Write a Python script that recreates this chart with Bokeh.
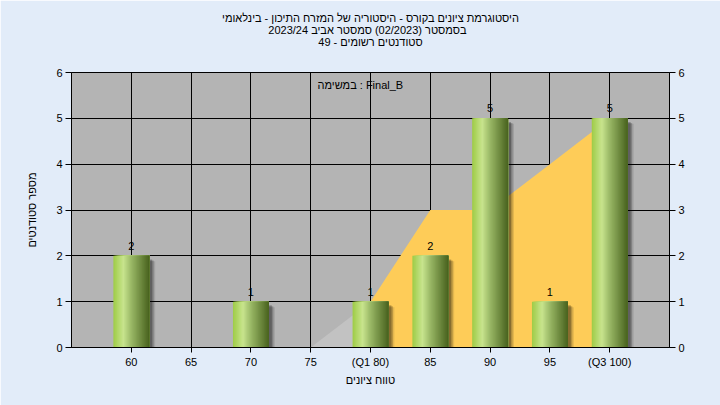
from bokeh.plotting import figure
from bokeh.models import Range1d, FixedTicker, LinearAxis, Label, Title
from bokeh.core.properties import value
from bokeh.embed import file_html
from bokeh.resources import INLINE

# ---- data ----
categories = ["60", "65", "70", "75", "(Q1 80)", "85", "90", "95", "(Q3 100)"]
counts = [2, 0, 1, 0, 1, 2, 5, 1, 5]
pre_q1_cats = ["75", "(Q1 80)"]
pre_q1_vals = [0, 1]
iqr_cats = ["(Q1 80)", "85", "90", "95", "(Q3 100)"]
iqr_vals = [1, 3, 3, 4, 5]

title_lines = [
    "היסטוגרמת ציונים בקורס - היסטוריה של המזרח התיכון - בינלאומי",
    "בסמסטר  (02/2023)  סמסטר אביב 2023/24",
    "סטודנטים רשומים - 49",
]
task_label = "במשימה : Final_B"
x_title = "טווח ציונים"
y_title = "מספר סטודנטים"

FONT = "Liberation Sans"
idx = {c: i for i, c in enumerate(categories)}

p = figure(width=720, height=405, output_backend="svg", toolbar_location=None,
           x_range=Range1d(-1, len(categories)), y_range=Range1d(0, 6),
           min_border_left=71, min_border_right=51, min_border_top=72, min_border_bottom=58)
p.background_fill_color = "#b4b4b4"
p.border_fill_color = "#e2ecf9"
p.outline_line_color = "black"

# titles: spacer nearest the frame, then the lines from bottom to top
p.add_layout(Title(text=" ", text_font=FONT, text_font_size="11px", standoff=12), "above")
for line in reversed(title_lines):
    p.add_layout(Title(text=line, align="center", text_font=FONT, text_font_size="11px",
                       text_font_style="normal", text_color="black", standoff=-2), "above")

# grid
p.xgrid.ticker = FixedTicker(ticks=list(range(len(categories))))
p.ygrid.ticker = FixedTicker(ticks=list(range(0, 7)))
for g in (p.xgrid, p.ygrid):
    g.grid_line_color = "black"
    g.grid_line_alpha = 1.0
    g.grid_line_width = 1

# areas
p.varea(x=[idx[c] for c in pre_q1_cats], y1=[0] * len(pre_q1_vals), y2=pre_q1_vals,
        fill_color="#c2c2c2")
p.varea(x=[idx[c] for c in iqr_cats], y1=[0] * len(iqr_vals), y2=iqr_vals,
        fill_color="#fecc58")

# bars
bar_w = 0.6
bx = [i for i, v in enumerate(counts) if v > 0]
bv = [v for v in counts if v > 0]
# soft shadows
p.vbar(x=[x + 0.1 for x in bx], top=[v - 0.12 for v in bv], bottom=-0.1, width=bar_w,
       fill_color="black", fill_alpha=0.1, line_color=None)
p.vbar(x=[x + 0.075 for x in bx], top=[v - 0.1 for v in bv], bottom=-0.1, width=bar_w,
       fill_color="black", fill_alpha=0.2, line_color=None)
p.vbar(x=[x + 0.05 for x in bx], top=[v - 0.08 for v in bv], bottom=-0.1, width=bar_w,
       fill_color="black", fill_alpha=0.25, line_color=None)

stops = [(0.0, (0x9e, 0xcc, 0x46)), (0.28, (0xc8, 0xe4, 0x8e)), (0.5, (0x9a, 0xb8, 0x66)),
         (1.0, (0x48, 0x62, 0x1e))]

def grad(t):
    for (t0, c0), (t1, c1) in zip(stops[:-1], stops[1:]):
        if t0 <= t <= t1:
            f = (t - t0) / (t1 - t0)
            return "#%02x%02x%02x" % tuple(int(round(a + (b - a) * f)) for a, b in zip(c0, c1))
    return "#%02x%02x%02x" % stops[-1][1]

N = 30
sw = bar_w / N
lefts, rights, tops, cols = [], [], [], []
for x, v in zip(bx, bv):
    for k in range(N):
        lefts.append(x - bar_w / 2 + sw * k)
        rights.append(x + bar_w / 2)
        tops.append(v)
        cols.append(grad((k + 0.5) / N))
p.quad(left=lefts, right=rights, top=tops, bottom=0, fill_color=cols, line_color=None)

# value labels
p.text(x=bx, y=bv, text=[str(v) for v in bv], y_offset=-10, text_align="center",
       text_baseline="alphabetic", text_font=value(FONT), text_font_size="11px",
       text_color="black")

# axes
def style_axis(ax):
    ax.axis_line_color = "black"
    ax.major_tick_line_color = "black"
    ax.major_tick_out = 6
    ax.major_tick_in = 0
    ax.minor_tick_line_color = None
    ax.major_label_text_font = FONT
    ax.major_label_text_font_size = "11px"
    ax.major_label_text_color = "black"
    ax.major_label_standoff = 3
    ax.axis_label_text_font = FONT
    ax.axis_label_text_font_size = "11px"
    ax.axis_label_text_font_style = "normal"
    ax.axis_label_text_color = "black"

p.xaxis.ticker = FixedTicker(ticks=list(range(len(categories))))
p.xaxis.major_label_overrides = {i: c for i, c in enumerate(categories)}
p.xaxis.axis_label = x_title
p.yaxis.ticker = FixedTicker(ticks=list(range(0, 7)))
p.yaxis.axis_label = y_title
style_axis(p.xaxis[0])
style_axis(p.yaxis[0])
p.xaxis.major_tick_out = 5
p.xaxis.axis_label_standoff = 3
p.yaxis.axis_label_standoff = 15

right = LinearAxis(ticker=FixedTicker(ticks=list(range(0, 7))))
style_axis(right)
p.add_layout(right, "right")

p.add_layout(Label(x=3.83, y=5.72, text=task_label, text_align="center",
                   text_baseline="middle", text_font=FONT, text_font_size="11px",
                   text_color="black"))

open("out.html", "w").write(file_html(p, INLINE))
